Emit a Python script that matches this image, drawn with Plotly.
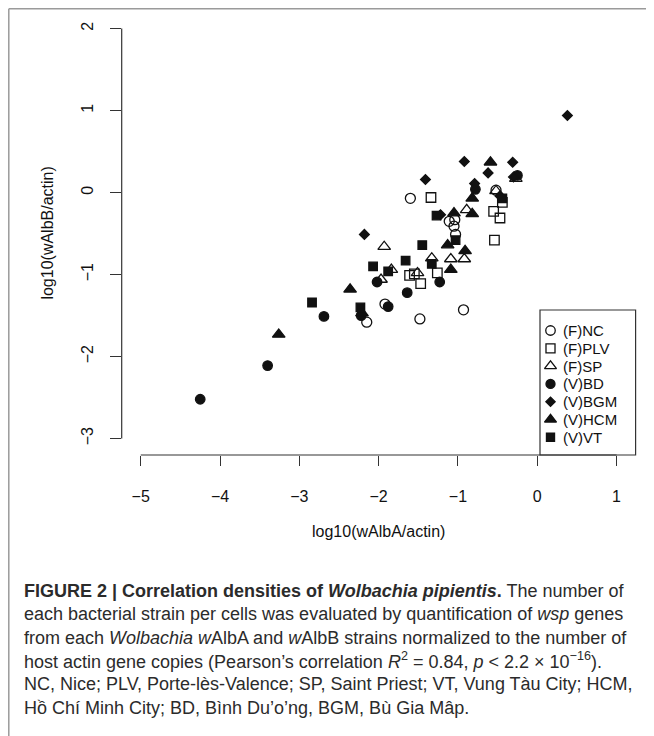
import plotly.graph_objects as go

# page is 654x736; browser body has an 8px margin, so the figure is drawn at (8,8)
PAGE_W, PAGE_H = 654, 736
O = 8
W, H = PAGE_W - O, PAGE_H - O

# ---- data (log10 wAlbA/actin, log10 wAlbB/actin) ----
nc_x = [-1.60, -1.11, -1.04, -1.05, -1.03, -0.52, -1.92, -0.93, -1.48, -2.15]
nc_y = [-0.07, -0.35, -0.33, -0.41, -0.51, 0.03, -1.36, -1.43, -1.54, -1.58]

plv_x = [-1.34, -0.44, -0.55, -0.47, -0.54, -1.61, -1.55, -1.26, -1.47]
plv_y = [-0.06, -0.12, -0.23, -0.31, -0.58, -1.01, -0.99, -0.98, -1.11]

sp_x = [-0.27, -0.52, -0.89, -1.93, -1.33, -1.09, -0.92, -1.84, -1.51, -1.97]
sp_y = [0.17, 0.02, -0.21, -0.66, -0.80, -0.81, -0.81, -0.94, -0.98, -1.06]

bd_x = [-0.25, -0.78, -2.02, -1.23, -1.64, -1.88, -2.22, -2.69, -3.40, -4.25]
bd_y = [0.21, 0.04, -1.09, -1.09, -1.22, -1.39, -1.50, -1.51, -2.11, -2.52]

bgm_x = [0.38, -0.92, -0.31, -0.62, -0.30, -1.41, -0.79, -0.47, -1.22, -2.18]
bgm_y = [0.94, 0.38, 0.37, 0.24, 0.19, 0.16, 0.11, -0.04, -0.27, -0.51]

hcm_x = [-0.59, -0.82, -0.82, -1.05, -1.13, -0.91, -1.09, -2.36, -2.21, -3.26]
hcm_y = [0.37, -0.07, -0.26, -0.25, -0.64, -0.71, -0.94, -1.18, -1.47, -1.73]

vt_x = [-0.44, -1.27, -1.03, -1.45, -1.66, -2.07, -1.33, -1.88, -2.23, -2.84]
vt_y = [-0.07, -0.28, -0.58, -0.64, -0.83, -0.90, -0.87, -0.96, -1.40, -1.34]

group_names = ["(F)NC", "(F)PLV", "(F)SP", "(V)BD", "(V)BGM", "(V)HCM", "(V)VT"]
x_ticks = [-5, -4, -3, -2, -1, 0, 1]
y_ticks = [-3, -2, -1, 0, 1, 2]

# ---- styles ----
series = [(nc_x, nc_y), (plv_x, plv_y), (sp_x, sp_y), (bd_x, bd_y),
          (bgm_x, bgm_y), (hcm_x, hcm_y), (vt_x, vt_y)]
symbols = ["circle-open", "square-open", "triangle-up-open", "circle",
           "diamond", "triangle-up", "square"]
sizes = [10, 9.5, 11, 9.5, 7.5, 11, 8.5]

FONT = "Liberation Sans, Arial, sans-serif"
INK = "#111111"
AX = "#333333"

# plot region in page pixels (R-like)
PL, PR, PT, PB = 121.7, 635.6, 12.2, 455.0
XR = [-5.24, 1.24]
YR = [-3.2, 2.2]

fig = go.Figure()

for (xs, ys), sym, sz, nm in zip(series, symbols, sizes, group_names):
    fig.add_trace(go.Scatter(
        x=xs, y=ys, mode="markers", name=nm, showlegend=False,
        marker=dict(symbol=sym, size=sz, color=INK,
                    line=dict(color=INK, width=1.3)),
        xaxis="x", yaxis="y", cliponaxis=False))

# ---- manual R-style legend on a page-pixel overlay axis ----
LEG_L, LEG_T = 540, 310
row0, drow = 330.5, 17.8
mark_x, text_x = 550.5, 561
for i, (sym, sz, nm) in enumerate(zip(symbols, sizes, group_names)):
    yy = row0 + i * drow
    fig.add_trace(go.Scatter(
        x=[mark_x], y=[yy], mode="markers", showlegend=False,
        marker=dict(symbol=sym, size=sz * 0.95, color=INK,
                    line=dict(color=INK, width=1.3)),
        xaxis="x2", yaxis="y2", cliponaxis=False, hoverinfo="skip"))

annotations = []
for i, nm in enumerate(group_names):
    yy = row0 + i * drow
    annotations.append(dict(x=text_x, y=yy, xref="x2", yref="y2", text=nm,
                            showarrow=False, xanchor="left", yanchor="middle",
                            font=dict(family=FONT, size=15, color=INK)))

# axis titles
annotations.append(dict(x=(PL + PR) / 2, y=531, xref="x2", yref="y2",
                        text="log10(wAlbA/actin)", showarrow=False,
                        xanchor="center", yanchor="middle",
                        font=dict(family=FONT, size=16, color=INK)))
annotations.append(dict(x=48, y=(PT + PB) / 2, xref="x2", yref="y2",
                        text="log10(wAlbB/actin)", showarrow=False, textangle=-90,
                        xanchor="center", yanchor="middle",
                        font=dict(family=FONT, size=16, color=INK)))

# caption
caption = [
    "<b>FIGURE 2 | Correlation densities of <i>Wolbachia pipientis</i>.</b> The number of",
    "each bacterial strain per cells was evaluated by quantification of <i>wsp</i> genes",
    "from each <i>Wolbachia w</i>AlbA and <i>w</i>AlbB strains normalized to the number of",
    "host actin gene copies (Pearson\u2019s correlation <i>R</i><sup>2</sup> = 0.84, <i>p</i> &lt; 2.2 \u00d7 10<sup>\u221216</sup>).",
    "NC, Nice; PLV, Porte-l\u00e8s-Valence; SP, Saint Priest; VT, Vung T\u00e0u City; HCM,",
    "H\u1ed3 Ch\u00ed Minh City; BD, B\u00ecnh Du\u2019o\u2019ng, BGM, B\u00f9 Gia M\u00e2p.",
]
cap_y0, cap_dy = 591, 23.3
for i, line in enumerate(caption):
    annotations.append(dict(x=22, y=cap_y0 + i * cap_dy, xref="x2", yref="y2",
                            text=line, showarrow=False, xanchor="left",
                            yanchor="middle",
                            font=dict(family=FONT, size=18, color="#2b2b2b")))

shapes = [
    # x axis line from -5 to 1
    dict(type="line", xref="x", yref="y2", x0=x_ticks[0], x1=x_ticks[-1],
         y0=PB, y1=PB, line=dict(color=AX, width=1.2)),
    # y axis line from -3 to 2
    dict(type="line", xref="x2", yref="y", x0=PL, x1=PL,
         y0=y_ticks[0], y1=y_ticks[-1], line=dict(color=AX, width=1.2)),
    # legend box
    dict(type="rect", xref="x2", yref="y2", x0=LEG_L, x1=PR, y0=LEG_T, y1=PB,
         line=dict(color=AX, width=1.2), fillcolor="rgba(0,0,0,0)"),
    # outer frame (left + top)
    dict(type="line", xref="x2", yref="y2", x0=8.8, x1=8.8, y0=8.8, y1=PAGE_H + 5,
         line=dict(color="#9a9a9a", width=1.5)),
    dict(type="line", xref="x2", yref="y2", x0=8.8, x1=PAGE_W + 5, y0=8.8, y1=8.8,
         line=dict(color="#9a9a9a", width=1.5)),
]

fig.update_layout(
    width=W, height=H,
    margin=dict(l=0, r=0, t=0, b=0),
    paper_bgcolor="white", plot_bgcolor="rgba(0,0,0,0)",
    showlegend=False,
    xaxis=dict(domain=[(PL - O) / W, (PR - O) / W], range=XR, tickvals=x_ticks,
               ticktext=[str(v).replace("-", "\u2212") for v in x_ticks],
               ticks="outside", ticklen=10, tickwidth=1.2, tickcolor=AX,
               showline=False, showgrid=False, zeroline=False,
               ticklabelstandoff=17,
               tickfont=dict(family=FONT, size=16, color=INK), anchor="y"),
    yaxis=dict(domain=[1 - (PB - O) / H, 1 - (PT - O) / H], range=YR,
               tickvals=y_ticks,
               ticktext=[str(v).replace("-", "\u2212") for v in y_ticks],
               ticks="outside", ticklen=11, tickwidth=1.2, tickcolor=AX,
               tickangle=-90,
               showline=False, showgrid=False, zeroline=False,
               ticklabelstandoff=10,
               tickfont=dict(family=FONT, size=16, color=INK), anchor="x"),
    xaxis2=dict(domain=[0, 1], range=[O, O + W], visible=False, anchor="y2",
                fixedrange=True),
    yaxis2=dict(domain=[0, 1], range=[O + H, O], visible=False, anchor="x2",
                fixedrange=True),
    annotations=annotations,
    shapes=shapes,
)

fig.write_html("out.html")
